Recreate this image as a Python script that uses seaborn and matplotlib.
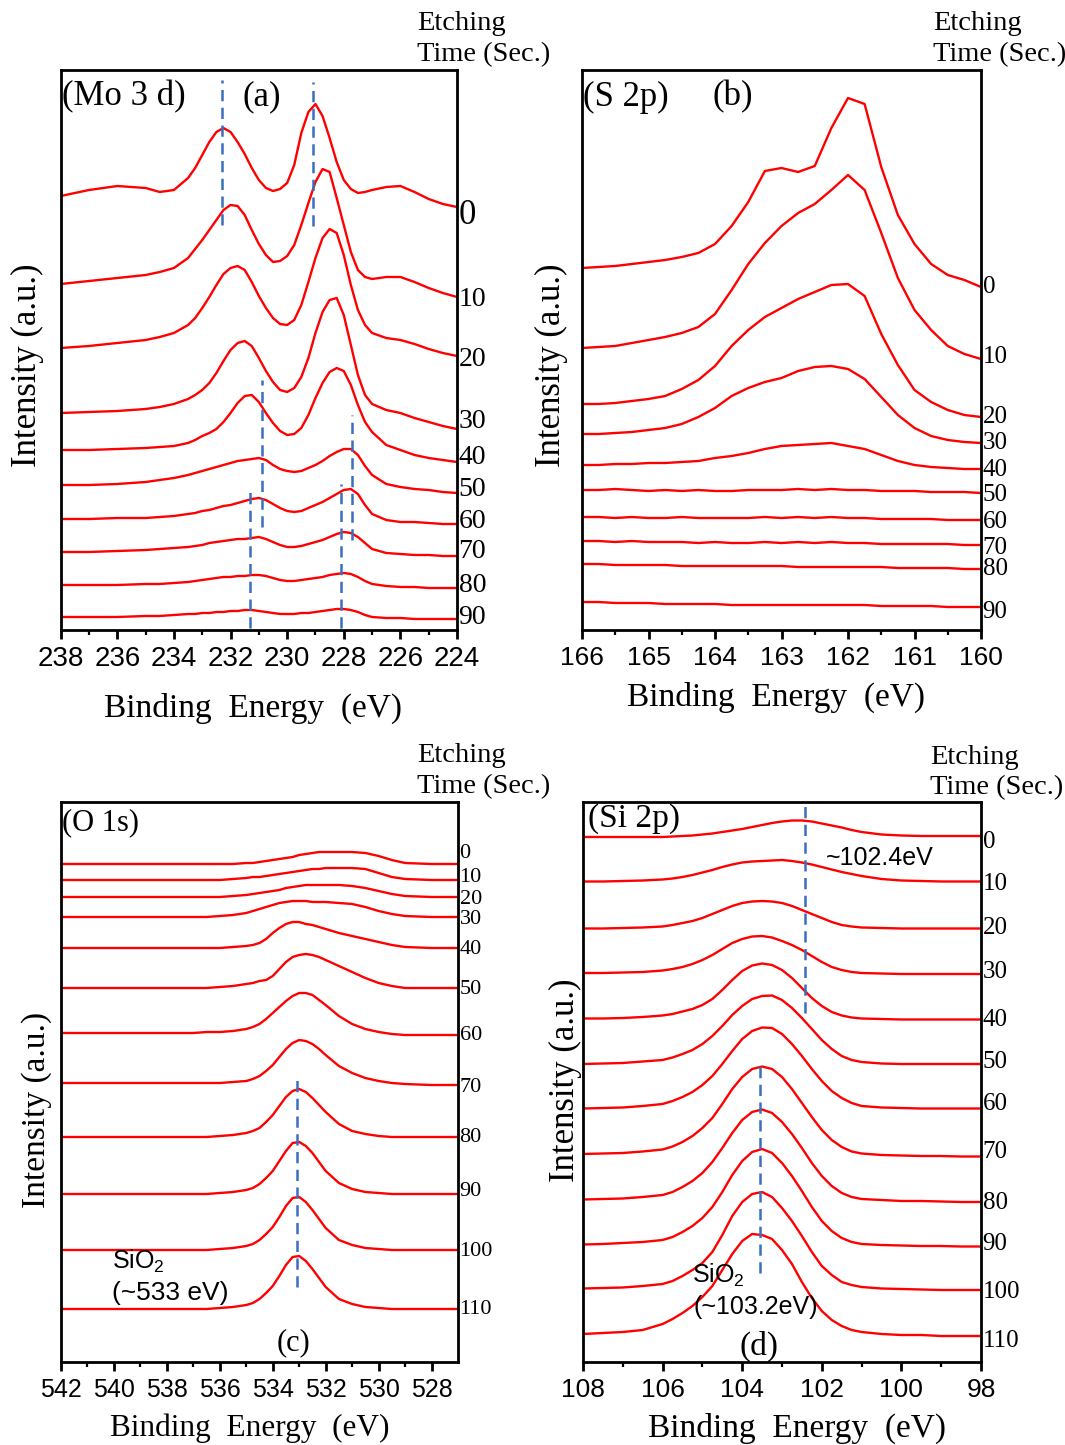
import matplotlib
matplotlib.use("Agg")
import matplotlib.pyplot as plt
import pandas as pd
import seaborn as sns
from matplotlib.ticker import FormatStrFormatter

# ---------------- (a) Mo 3d ----------------
mo_energy = [238, 237, 236, 235, 234.5, 234, 233.5, 233.25, 233, 232.75, 232.5, 232.25, 232,
             231.75, 231.5, 231.25, 231, 230.75, 230.5, 230.25, 230, 229.75, 229.5, 229.25, 229,
             228.75, 228.5, 228.25, 228, 227.75, 227.5, 227.25, 227, 226.5, 226, 225.5, 225, 224.5, 224]
mo_times = [0, 10, 20, 30, 40, 50, 60, 70, 80, 90]
mo_0 = [434, 440, 444, 442, 438, 440, 452, 462, 475, 488, 498, 502, 498, 488, 476, 462, 450, 442, 439, 441,
        447, 465, 497, 518, 526, 514, 492, 468, 450, 441, 437, 438, 440, 443, 444, 438, 431, 426, 423]
mo_10 = [346, 349, 352, 355, 358, 362, 372, 381, 390, 400, 410, 420, 425, 424, 415, 400, 386, 375, 368, 369,
         374, 385, 405, 427, 448, 461, 458, 432, 405, 378, 360, 353, 351, 353, 353, 348, 342, 337, 333]
mo_20 = [282, 284, 287, 290, 293, 297, 305, 312, 322, 333, 345, 356, 362, 364, 360, 348, 334, 322, 312, 306,
         305, 310, 325, 348, 372, 392, 401, 397, 375, 345, 320, 305, 297, 292, 290, 286, 281, 277, 274]
mo_30 = [217, 218, 219, 221, 223, 226, 231, 235, 240, 247, 257, 269, 280, 287, 289, 284, 272, 259, 248, 240,
         238, 242, 253, 272, 297, 318, 330, 332, 315, 285, 255, 235, 226, 220, 217, 212, 208, 204, 201]
mo_40 = [180, 180, 181, 182, 183, 184, 187, 190, 194, 197, 201, 208, 217, 227, 234, 235, 228, 217, 207, 199,
         195, 196, 202, 215, 232, 247, 258, 262, 259, 245, 225, 208, 198, 185, 180, 175, 172, 170, 168]
mo_50 = [145, 145, 146, 148, 150, 152, 155, 157, 159, 161, 163, 165, 167, 169, 170, 171, 172, 170, 165, 161,
         159, 158, 159, 162, 165, 169, 174, 178, 181, 181, 175, 164, 155, 146, 143, 141, 140, 138, 137]
mo_60 = [111, 111, 112, 112, 113, 114, 116, 117, 119, 120, 122, 124, 125, 127, 129, 131, 132, 130, 126, 122,
         119, 118, 119, 122, 125, 128, 132, 136, 140, 141, 136, 125, 116, 110, 108, 108, 107, 106, 106]
mo_70 = [78, 78, 79, 80, 81, 82, 83, 84, 85, 87, 88, 89, 90, 91, 91, 92, 93, 91, 88, 85,
         83, 83, 84, 86, 88, 90, 93, 96, 98, 97, 93, 87, 81, 77, 76, 75, 75, 74, 74]
mo_80 = [45, 45, 45, 46, 46, 47, 48, 49, 50, 51, 52, 53, 53, 54, 54, 55, 55, 54, 52, 50,
         49, 49, 50, 51, 52, 53, 55, 56, 57, 56, 53, 49, 46, 44, 43, 43, 42, 42, 42]
mo_90 = [13, 13, 13, 14, 14, 15, 16, 16, 17, 17, 18, 18, 19, 19, 20, 20, 19, 18, 17, 16,
         16, 16, 17, 17, 18, 19, 20, 21, 21, 20, 18, 15, 13, 12, 12, 11, 11, 11, 11]
mo_marks = [232.3, 229.1, 230.9, 227.7, 231.3, 228.1]
mo_marks_top = [550, 548, 250, 215, 144, 146]
mo_marks_bottom = [405, 404, 103, 90, 2, 2]

# ---------------- (b) S 2p ----------------
s_energy = [166, 165.75, 165.5, 165.25, 165, 164.75, 164.5, 164.25, 164, 163.75, 163.5, 163.25, 163,
            162.75, 162.5, 162.25, 162, 161.75, 161.5, 161.25, 161, 160.75, 160.5, 160.25, 160]
s_times = [0, 10, 20, 30, 40, 50, 60, 70, 80, 90]
s_0 = [362, 363, 364, 366, 368, 370, 373, 377, 386, 404, 428, 459, 462, 458, 464, 502, 532, 526, 463, 415,
       386, 366, 355, 350, 343]
s_10 = [282, 283, 284, 287, 290, 293, 297, 303, 316, 340, 366, 387, 404, 417, 426, 440, 455, 440, 397, 352,
        320, 300, 284, 276, 271]
s_20 = [226, 226, 227, 229, 231, 234, 241, 250, 264, 284, 300, 313, 322, 331, 338, 345, 346, 334, 296, 265,
        240, 228, 220, 215, 213]
s_30 = [196, 196, 197, 198, 200, 202, 206, 213, 222, 234, 242, 248, 252, 259, 263, 264, 261, 251, 233, 215,
        202, 194, 190, 188, 187]
s_40 = [165, 165, 166, 166, 167, 167, 168, 169, 172, 174, 177, 181, 184, 185, 186, 187, 184, 181, 175, 169,
        165, 163, 162, 161, 161]
s_50 = [140, 140, 141, 140, 139, 140, 139, 140, 139, 139, 140, 140, 140, 141, 140, 141, 140, 140, 139, 139,
        139, 138, 138, 138, 137]
s_60 = [113, 113, 112, 113, 112, 112, 113, 112, 112, 112, 112, 113, 112, 113, 112, 113, 112, 112, 111, 111,
        111, 111, 110, 110, 110]
s_70 = [89, 89, 88, 89, 88, 88, 88, 87, 88, 87, 87, 88, 87, 88, 87, 88, 87, 87, 86, 86,
        86, 86, 86, 85, 85]
s_80 = [66, 66, 65, 65, 65, 65, 64, 64, 64, 64, 64, 64, 64, 63, 63, 63, 63, 63, 63, 62,
        62, 62, 62, 61, 61]
s_90 = [28, 28, 27, 27, 27, 26, 26, 26, 26, 25, 25, 25, 25, 25, 25, 25, 25, 25, 24, 24,
        24, 24, 23, 23, 23]

# ---------------- (c) O 1s ----------------
o_energy = [542, 541, 540, 539, 538, 537, 536.5, 536, 535.5, 535, 534.75, 534.5, 534.25, 534, 533.75,
            533.5, 533.25, 533, 532.75, 532.5, 532.25, 532, 531.5, 531, 530.5, 530, 529.5, 529, 528, 527]
o_times = [0, 10, 20, 30, 40, 50, 60, 70, 80, 90, 100, 110]
o_0 = [498, 498, 498, 498, 498, 498, 498, 498, 498, 499, 499, 500, 501, 502, 503, 504, 505, 507, 508, 509,
       510, 510, 510, 510, 509, 506, 502, 499, 498, 498]
o_10 = [482, 482, 482, 482, 482, 482, 482, 482, 483, 484, 485, 485, 486, 487, 488, 489, 490, 491, 492, 493,
        493, 494, 494, 494, 493, 489, 485, 483, 482, 482]
o_20 = [465, 465, 465, 465, 465, 465, 465, 465, 466, 467, 468, 469, 470, 471, 472, 474, 475, 476, 477, 477,
        477, 477, 477, 476, 474, 471, 468, 466, 465, 465]
o_30 = [445, 445, 445, 445, 445, 445, 445, 446, 447, 449, 451, 453, 455, 457, 459, 460, 461, 461, 461, 460,
        460, 460, 459, 458, 455, 451, 448, 446, 445, 445]
o_40 = [414, 414, 414, 414, 414, 414, 414, 414, 415, 416, 417, 419, 423, 429, 434, 438, 440, 440, 438, 437,
        435, 433, 429, 426, 423, 420, 417, 415, 414, 414]
o_50 = [374, 374, 374, 374, 374, 374, 374, 375, 376, 378, 379, 381, 382, 386, 393, 400, 405, 407, 408, 407,
        405, 402, 396, 390, 384, 379, 376, 374, 374, 374]
o_60 = [329, 329, 329, 329, 329, 329, 330, 330, 331, 333, 335, 338, 343, 349, 355, 361, 366, 369, 369, 367,
        362, 357, 346, 338, 333, 330, 328, 327, 327, 327]
o_70 = [279, 279, 279, 279, 279, 279, 279, 279, 280, 281, 283, 286, 291, 297, 305, 313, 319, 322, 321, 318,
        313, 307, 296, 289, 284, 281, 279, 278, 277, 277]
o_80 = [225, 225, 225, 225, 225, 225, 225, 226, 227, 229, 231, 234, 240, 247, 256, 265, 271, 273, 270, 264,
        257, 250, 238, 231, 228, 226, 225, 225, 225, 225]
o_90 = [168, 168, 168, 168, 168, 168, 168, 169, 170, 172, 174, 178, 184, 191, 201, 211, 219, 220, 216, 209,
        200, 191, 179, 173, 170, 169, 168, 168, 168, 168]
o_100 = [112, 112, 112, 112, 112, 112, 112, 113, 114, 116, 118, 122, 128, 135, 145, 156, 164, 165, 160, 152,
         143, 134, 122, 117, 114, 113, 112, 112, 112, 112]
o_110 = [53, 53, 53, 53, 53, 53, 53, 54, 55, 57, 59, 63, 69, 76, 86, 97, 105, 106, 101, 93,
         84, 75, 63, 58, 55, 54, 53, 53, 53, 53]
o_marks = [533.1]
o_marks_top = [288]
o_marks_bottom = [75]

# ---------------- (d) Si 2p ----------------
si_energy = [108, 107.5, 107, 106.5, 106, 105.75, 105.5, 105.25, 105, 104.75, 104.5, 104.25, 104, 103.75,
             103.5, 103.25, 103, 102.75, 102.5, 102.25, 102, 101.75, 101.5, 101.25, 101, 100.5, 100, 99.5,
             99, 98.5, 98]
si_times = [0, 10, 20, 30, 40, 50, 60, 70, 80, 90, 100, 110]
si_0 = [525, 525, 525, 525, 525, 525.5, 526, 526.5, 527.5, 528.5, 530, 531.5, 533, 535, 537, 539, 540.5,
        541.5, 541.5, 540.5, 538.5, 536.5, 534.5, 532, 530, 527.5, 526.5, 526, 526, 526, 526]
si_10 = [480.5, 480.5, 481, 481.5, 482.5, 483.5, 485, 487, 489.5, 492, 495, 497.5, 499.5, 500.5, 501, 501.5,
         502, 501, 499.5, 497.5, 495, 492.5, 490, 488, 486, 483, 481.5, 481, 480.5, 480.5, 480.5]
si_20 = [433.5, 433.5, 434, 434.5, 435.5, 437, 439, 441, 444, 448, 452, 456, 459, 460.5, 461, 460.5, 459,
         456, 452, 448, 444, 440, 437, 435.5, 434.5, 434, 433.5, 433.5, 433.5, 433.5, 433.5]
si_30 = [389, 389, 389.5, 390, 391.5, 393, 395, 398, 402, 407, 413, 419, 423, 425.5, 426, 424.5, 421, 417,
         412, 406, 400, 395, 392, 390, 389, 388.5, 388, 388, 388, 388, 388]
si_40 = [343.5, 343.5, 344, 345, 346.5, 348, 350.5, 353, 357, 363, 372, 382, 391, 396.5, 398.5, 397, 392,
         384, 374, 364, 356, 350, 346.5, 344.5, 343.5, 343, 342.5, 342.5, 342.5, 342.5, 342.5]
si_50 = [298, 298.5, 299, 300.5, 302, 304.5, 308, 312, 318, 326, 336, 347, 356, 363, 366, 366.5, 362, 354,
         344, 333, 322, 313, 306, 302, 300, 298.5, 298, 298, 298, 298, 298]
si_60 = [253.5, 254, 254.5, 256, 258, 261, 265, 270, 277, 286, 298, 311, 323, 331, 334.5, 334, 328, 318,
         306, 293, 281, 271, 264, 259, 256, 254.5, 254, 253.5, 253.5, 253.5, 253.5]
si_70 = [208, 208.5, 209, 210.5, 212.5, 215.5, 220, 226, 234, 244, 258, 273, 285, 293, 295.5, 293, 285, 273,
         259, 245, 232, 222, 215, 210.5, 208.5, 207, 206.5, 206, 206, 205.5, 205.5]
si_80 = [162.5, 163, 163.5, 165, 167, 170, 175, 181, 189, 200, 214, 229, 242, 250, 252.5, 249, 240, 228,
         214, 199, 186, 176, 169, 165, 163, 162, 161, 161, 160.5, 160, 160]
si_90 = [117.5, 118, 119, 120, 122, 125, 130, 136, 144, 155, 170, 187, 201, 210, 213, 209, 199, 186, 171,
         155, 141, 131, 124, 120, 118, 117, 116.5, 116, 116, 115.5, 115.5]
si_100 = [73.5, 74, 74.5, 76, 78, 81, 86, 92, 99, 110, 127, 146, 160, 168, 170, 165, 154, 141, 126, 110,
          96, 87, 80, 77, 75, 73.5, 73, 72.5, 72, 72, 72]
si_110 = [28, 29, 30, 32, 38, 43, 49, 56, 65, 76, 92, 108, 121, 128, 127, 123, 112, 98, 80, 64, 51, 42,
          36, 32, 30, 28, 27, 27, 26, 26, 26]
si_marks = [102.43, 103.55]
si_marks_top = [564, 301]
si_marks_bottom = [349, 89]

# ---------------- styling ----------------
sns.set_theme(style="ticks")
plt.rcParams["font.family"] = ["Liberation Serif", "DejaVu Serif"]
plt.rcParams["axes.linewidth"] = 2.0
plt.rcParams["axes.edgecolor"] = "black"
plt.rcParams["text.color"] = "black"
plt.rcParams["xtick.color"] = "black"
plt.rcParams["axes.labelcolor"] = "black"

SANS = ["Liberation Sans", "DejaVu Sans"]
RED = "#ff0000"
BLUE = "#3a6fbf"
W, H = 1065, 1445

fig = plt.figure(figsize=(W / 100, H / 100), dpi=100)
fig.patch.set_facecolor("white")


def box(left, top, right, bottom):
    return [left / W, 1 - bottom / H, (right - left) / W, (bottom - top) / H]


def ftext(px, py, s, **kw):
    fig.text(px / W, 1 - py / H, s, color="black", **kw)


def panel(ax, energy, times, curves, xlim, major, minor, tick_fs, lab_fs,
          marks, marks_top, marks_bottom, lab_shift=None, lab_sizes=None):
    rows = [(t, e, v) for t, vals in zip(times, curves) for e, v in zip(energy, vals)]
    df = pd.DataFrame(rows, columns=["time", "energy", "intensity"])
    sns.lineplot(data=df, x="energy", y="intensity", units="time", estimator=None,
                 sort=False, color=RED, linewidth=1.7, ax=ax, legend=False)
    ax.vlines(marks, marks_bottom, marks_top, colors=BLUE, linewidth=1.8,
              linestyles=(0, (4.5, 2.6)), zorder=3)
    ax.set_xlim(*xlim)
    ax.set_ylim(0, 560)
    ax.set_xticks(major)
    ax.set_xticks(minor, minor=True)
    ax.xaxis.set_major_formatter(FormatStrFormatter("%d"))
    ax.set_yticks([])
    ax.set_xlabel("")
    ax.set_ylabel("")
    for sp in ax.spines.values():
        sp.set_visible(True)
        sp.set_linewidth(2.0)
        sp.set_color("black")
    ax.tick_params(axis="x", which="major", direction="out", length=6.5, width=2.0,
                   labelsize=tick_fs, pad=5, labelfontfamily="Liberation Sans",
                   colors="black", labelcolor="black")
    ax.tick_params(axis="x", which="minor", direction="out", length=3.5, width=1.6, colors="black")
    if lab_shift is None:
        lab_shift = [0] * len(times)
    if lab_sizes is None:
        lab_sizes = [lab_fs] * len(times)
    for t, vals, dy, fs in zip(times, curves, lab_shift, lab_sizes):
        ax.text(1.004, vals[-1] + dy, str(t), transform=ax.get_yaxis_transform(),
                ha="left", va="center", fontsize=fs, color="black")
    ax.set_facecolor("white")


ax_a = fig.add_axes(box(60.7, 70, 457, 630))
ax_b = fig.add_axes(box(582, 70, 981, 630))
ax_c = fig.add_axes(box(61, 802, 458, 1362))
ax_d = fig.add_axes(box(583, 802, 981, 1362))

panel(ax_a, mo_energy, mo_times,
      [mo_0, mo_10, mo_20, mo_30, mo_40, mo_50, mo_60, mo_70, mo_80, mo_90],
      (238, 224), list(range(238, 223, -2)), list(range(237, 224, -2)), 20, 20,
      mo_marks, mo_marks_top, mo_marks_bottom,
      lab_shift=[-8, -3, -4, 7, 4, 3, 2, 4, 2, 1],
      lab_sizes=[25, 20, 20, 20, 20, 20, 20, 20, 20, 20])
panel(ax_b, s_energy, s_times,
      [s_0, s_10, s_20, s_30, s_40, s_50, s_60, s_70, s_80, s_90],
      (166, 160), list(range(166, 159, -1)), [165.5, 164.5, 163.5, 162.5, 161.5, 160.5], 19, 18,
      [], [], [], lab_shift=[0, 2, 0, 0, -1, -2, -2, -3, 0, -5])
panel(ax_c, o_energy, o_times,
      [o_0, o_10, o_20, o_30, o_40, o_50, o_60, o_70, o_80, o_90, o_100, o_110],
      (542, 527), list(range(542, 527, -2)), list(range(541, 527, -2)), 18, 16,
      o_marks, o_marks_top, o_marks_bottom,
      lab_shift=[10, 2, -3, -3, -2, -1, -1, -3, 0, 3, -1, 0])
panel(ax_d, si_energy, si_times,
      [si_0, si_10, si_20, si_30, si_40, si_50, si_60, si_70, si_80, si_90, si_100, si_110],
      (108, 98), list(range(108, 97, -2)), list(range(107, 98, -2)), 19, 18,
      si_marks, si_marks_top, si_marks_bottom,
      lab_shift=[-6, -3, 0, 2, -1, 2, 4, 4, -1, 3, -2, -5])

# axis titles
ftext(253, 708, "Binding  Energy  (eV)", fontsize=24, ha="center", va="center")
ftext(776, 697, "Binding  Energy  (eV)", fontsize=24, ha="center", va="center")
ftext(250, 1428, "Binding  Energy  (eV)", fontsize=22.5, ha="center", va="center")
ftext(797, 1428, "Binding  Energy  (eV)", fontsize=24, ha="center", va="center")
ftext(27, 365, "Intensity (a.u.)", fontsize=25, ha="center", va="center", rotation=90)
ftext(551, 365, "Intensity (a.u.)", fontsize=25, ha="center", va="center", rotation=90)
ftext(37, 1110, "Intensity (a.u.)", fontsize=24, ha="center", va="center", rotation=90)
ftext(565, 1080, "Intensity (a.u.)", fontsize=25, ha="center", va="center", rotation=90)

# etching time headers
for px, py in [(417, 24), (933, 24), (417, 756), (930, 757)]:
    ftext(px, py, "Etching", fontsize=20.5, ha="left", va="center")
    ftext(px, py + 31, "Time (Sec.)", fontsize=20.5, ha="left", va="center")

# panel tags
ftext(62, 97, "(Mo 3 d)", fontsize=25, ha="left", va="center")
ftext(243, 97, "(a)", fontsize=25, ha="left", va="center")
ftext(583, 97, "(S 2p)", fontsize=25, ha="left", va="center")
ftext(712, 97, "(b)", fontsize=25, ha="left", va="center")
ftext(62, 823, "(O 1s)", fontsize=22, ha="left", va="center")
ftext(293, 1343, "(c)", fontsize=22, ha="center", va="center")
ftext(588, 819, "(Si 2p)", fontsize=24, ha="left", va="center")
ftext(759, 1346, "(d)", fontsize=24, ha="center", va="center")

# peak annotations
ftext(112, 1261, "SiO$_\\mathregular{2}$", fontsize=18, ha="left", va="center", family=SANS)
ftext(112, 1293, "(~533 eV)", fontsize=19, ha="left", va="center", family=SANS)
ftext(692, 1275, "SiO$_\\mathregular{2}$", fontsize=18, ha="left", va="center", family=SANS)
ftext(694, 1307, "(~103.2eV)", fontsize=18, ha="left", va="center", family=SANS)
ftext(826, 858, "~102.4eV", fontsize=18, ha="left", va="center", family=SANS)

fig.savefig("out.png", dpi=100, facecolor="white")
